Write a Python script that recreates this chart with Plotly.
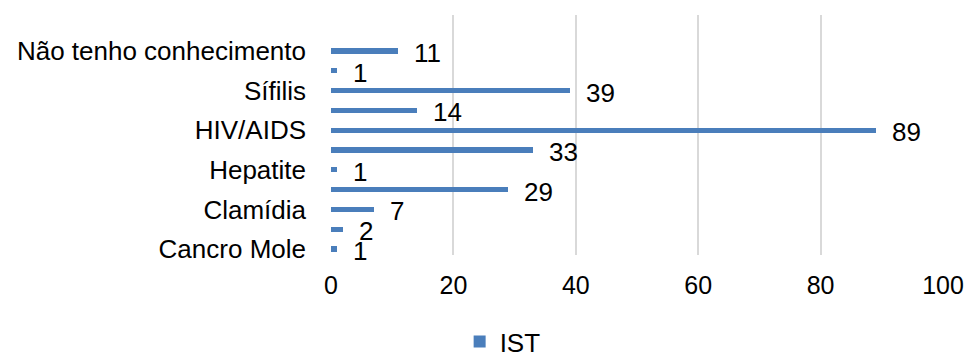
import plotly.graph_objects as go

# IST citadas pelos participantes (de baixo para cima)
categorias = [
    "Cancro Mole", "Candidíase", "Clamídia", "Gonorreia", "Hepatite", "Herpes",
    "HIV/AIDS", "HPV", "Sífilis", "Tricomoníase", "Não tenho conhecimento",
]
valores = [1, 2, 7, 29, 1, 33, 89, 14, 39, 1, 11]
# Rótulos do eixo: apenas uma categoria sim, outra não
rotulos_visiveis = [0, 2, 4, 6, 8, 10]
ticks_x = [0, 20, 40, 60, 80, 100]
serie = "IST"

FONT = "Liberation Sans, Arial, sans-serif"
AZUL = "#4a7ebb"
posicoes = list(range(len(categorias)))

fig = go.Figure()
fig.add_trace(go.Bar(
    x=valores,
    y=posicoes,
    orientation="h",
    name=serie,
    marker=dict(color=AZUL, line=dict(width=0)),
    width=0.26,
    customdata=categorias,
    hovertemplate="%{customdata}: %{x}<extra></extra>",
))

for pos, val in zip(posicoes, valores):
    fig.add_annotation(
        x=val, y=pos, text=str(val), showarrow=False,
        xanchor="left", yanchor="middle", xshift=14, yshift=-2,
        font=dict(family=FONT, size=26, color="#000000"),
    )

fig.update_layout(
    width=976, height=353,
    margin=dict(l=331, r=21, t=15, b=98),
    paper_bgcolor="white", plot_bgcolor="white",
    font=dict(family=FONT, size=26, color="#000000"),
    showlegend=True,
    legend=dict(
        orientation="h", xref="container", yref="container",
        x=0.515, y=0.032, xanchor="center", yanchor="middle",
        font=dict(family=FONT, size=26, color="#000000"),
        itemwidth=30,
    ),
    bargap=0,
)
fig.update_xaxes(
    range=[0, 100], tickvals=ticks_x, ticktext=[str(t) for t in ticks_x],
    showgrid=True, gridcolor="#d9d9d9", gridwidth=2,
    zeroline=False, showline=False, ticks="",
    ticklabelstandoff=13,
    tickfont=dict(family=FONT, size=25, color="#000000"),
)
fig.update_yaxes(
    range=[-0.30, 11.82],
    tickvals=rotulos_visiveis,
    ticktext=[categorias[i] for i in rotulos_visiveis],
    showgrid=False, zeroline=False, showline=False, ticks="",
    ticklabelstandoff=24,
    tickfont=dict(family=FONT, size=26, color="#000000"),
)

fig.write_html("out.html")
